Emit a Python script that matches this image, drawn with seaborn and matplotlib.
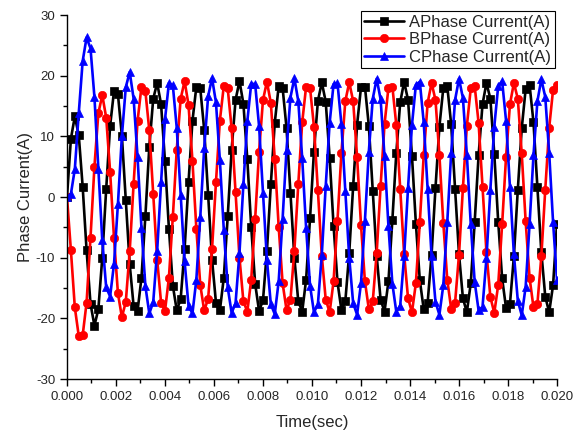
import matplotlib
matplotlib.use("Agg")
import matplotlib.pyplot as plt
from matplotlib.ticker import MultipleLocator, FormatStrFormatter
import seaborn as sns
import numpy as np

# phase currents, one sample every 0.16 ms
a_phase = [
    0, 9.6, 13.3, 10.2, 1.7, -8.8, -17.6, -21.2, -18.5, -10.0, 1.3, 11.7, 17.5, 16.9, 10.1, -0.5, -11.1, -18.0, -18.8, -13.3, -3.1,
    8.3, 16.2, 18.8, 15.3, 5.9, -5.2, -14.6, -18.7, -16.8, -8.6, 2.4, 12.5, 18.2, 17.9, 11.1, 0.4, -10.3, -17.4, -18.7, -13.3, -3.2,
    7.8, 16.0, 19.1, 15.4, 6.2, -5.0, -14.3, -18.8, -17.0, -8.9, 2.1, 12.2, 18.3, 18.0, 11.4, 0.7, -10.0, -17.2, -18.9, -13.6, -3.5,
    7.5, 15.8, 18.9, 15.7, 6.5, -4.7, -14.0, -18.6, -17.2, -9.2, 1.8, 11.9, 18.1, 18.2, 11.7, 1.0, -9.7, -16.9, -18.9, -13.9, -3.8,
    7.2, 15.6, 19.0, 16.0, 6.8, -4.4, -13.7, -18.5, -17.4, -9.5, 1.5, 11.6, 18.0, 18.3, 12.0, 1.3, -9.4, -16.7, -19.0, -14.2, -4.1,
    6.9, 15.3, 18.8, 16.2, 7.1, -4.1, -13.4, -18.3, -17.6, -9.8, 1.2, 11.3, 17.8, 18.5, 12.3, 1.6, -9.1, -16.4, -19.0, -14.5, -4.4,
]
b_phase = [
    0, -8.8, -18.2, -22.9, -22.8, -17.4, -6.7, 5.0, 13.8, 16.8, 13.1, 4.2, -6.8, -15.9, -19.8, -17.3, -8.9, 2.2, 12.5, 18.2, 17.4,
    11.0, 0.5, -10.3, -17.4, -18.8, -13.3, -3.3, 7.8, 16.2, 19.1, 15.2, 6.0, -5.2, -14.5, -18.7, -16.8, -8.6, 2.4, 12.6, 18.3, 17.9,
    11.3, 0.8, -10.0, -17.2, -18.9, -13.6, -3.6, 7.5, 16.0, 19.0, 15.5, 6.3, -4.9, -14.2, -18.6, -17.0, -8.9, 2.1, 12.3, 18.2, 18.0,
    11.6, 1.1, -9.7, -16.9, -19.0, -13.9, -3.9, 7.2, 15.8, 18.9, 15.8, 6.6, -4.6, -13.9, -18.5, -17.2, -9.2, 1.8, 12.0, 18.0, 18.2,
    11.9, 1.4, -9.4, -16.7, -19.0, -14.2, -4.2, 6.9, 15.5, 18.8, 16.0, 6.9, -4.3, -13.6, -18.4, -17.4, -9.5, 1.5, 11.7, 17.9, 18.3,
    12.2, 1.7, -9.1, -16.5, -19.1, -14.5, -4.5, 6.6, 15.3, 18.8, 16.2, 7.2, -4.0, -13.3, -18.2, -17.6, -9.8, 1.2, 11.4, 17.7, 18.5,
]
c_phase = [
    0, 0.5, 4.6, 13.8, 22.4, 26.3, 24.5, 16.5, 4.7, -7.1, -14.9, -16.4, -11.0, -1.1, 10.0, 18.1, 20.6, 16.2, 6.6, -5.1, -14.7,
    -19.2, -17.3, -8.9, 2.4, 12.8, 18.8, 18.4, 11.4, 0.4, -10.6, -17.9, -19.2, -13.6, -3.3, 8.1, 16.6, 19.6, 15.6, 6.1, -5.4, -14.9,
    -19.1, -17.5, -9.2, 2.1, 12.5, 18.7, 18.6, 11.7, 0.7, -10.3, -17.7, -19.3, -13.9, -3.6, 7.8, 16.4, 19.6, 15.8, 6.4, -5.1, -14.6,
    -19.0, -17.7, -9.5, 1.8, 12.2, 18.6, 18.8, 12.0, 1.0, -10.0, -17.5, -19.4, -14.2, -3.9, 7.5, 16.2, 19.5, 16.1, 6.7, -4.8, -14.3,
    -18.9, -17.9, -9.8, 1.5, 11.9, 18.5, 19.0, 12.3, 1.3, -9.7, -17.3, -19.4, -14.5, -4.2, 7.2, 16.0, 19.5, 16.3, 7.0, -4.5, -14.0,
    -18.7, -18.1, -10.1, 1.2, 11.6, 18.3, 19.1, 12.6, 1.6, -9.4, -17.1, -19.5, -14.8, -4.5, 6.9, 15.8, 19.4, 16.5, 7.3, -4.2, -13.7,
]
sample_step = 0.00016
time = np.arange(len(a_phase)) * sample_step

series = [
    ("APhase Current(A)", a_phase, "black", "s"),
    ("BPhase Current(A)", b_phase, "red", "o"),
    ("CPhase Current(A)", c_phase, "blue", "^"),
]

sns.set_style("ticks")
plt.rcParams["font.family"] = ["Liberation Sans", "DejaVu Sans"]
plt.rcParams["axes.unicode_minus"] = False

fig = plt.figure(figsize=(5.74, 4.34), dpi=100)
ax = fig.add_axes([0.1167, 0.1267, 0.8537, 0.8387])

for label, values, color, marker in series:
    sns.lineplot(x=time, y=values, ax=ax, color=color, marker=marker, label=label,
                 linewidth=1.9, markersize=6, markeredgecolor=color, markeredgewidth=0.5)

ax.set_xlim(0, 0.020)
ax.set_ylim(-30, 30)
ax.xaxis.set_major_locator(MultipleLocator(0.002))
ax.xaxis.set_minor_locator(MultipleLocator(0.001))
ax.yaxis.set_major_locator(MultipleLocator(10))
ax.yaxis.set_minor_locator(MultipleLocator(5))
ax.xaxis.set_major_formatter(FormatStrFormatter("%.3f"))
ax.tick_params(which="major", direction="out", length=5, width=1, labelsize=9.5, color="black")
ax.tick_params(which="minor", direction="out", length=3, width=1, color="black")
sns.despine(ax=ax)
for side in ["left", "bottom"]:
    ax.spines[side].set_color("black")
    ax.spines[side].set_linewidth(1)

ax.set_xlabel("Time(sec)", fontsize=12, labelpad=9)
ax.set_ylabel("Phase Current(A)", fontsize=12, labelpad=2)

leg = ax.legend(loc="upper right", bbox_to_anchor=(0.995, 1.01), borderaxespad=0,
                fontsize=12, frameon=True, fancybox=False, framealpha=1,
                handlelength=2.4, handletextpad=0.3, labelspacing=0.15, borderpad=0.2)
leg.get_frame().set_edgecolor("black")
leg.get_frame().set_linewidth(0.8)

fig.savefig("out.png", dpi=100)
